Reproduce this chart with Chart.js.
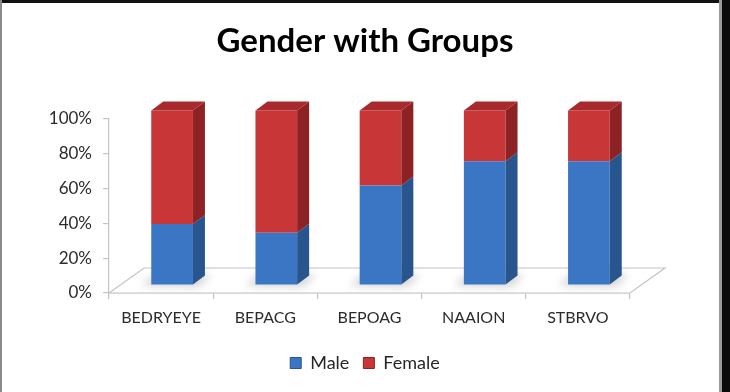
<!DOCTYPE html>
<html>
<head>
<meta charset="utf-8">
<script src="https://cdn.jsdelivr.net/npm/chart.js@4"></script>
<style>
  html, body { margin: 0; padding: 0; background: #ffffff; }
  #wrap { position: relative; width: 730px; height: 392px; overflow: hidden; background: #fff; }
  #frameTop { position: absolute; left: 0; top: 0; width: 730px; height: 3px; background: #111; }
  #frameLeft { position: absolute; left: 0; top: 0; width: 2px; height: 392px; background: #8a8a8a; }
  #frameRightGray { position: absolute; left: 719px; top: 0; width: 3px; height: 392px; background: #9a9a9a; }
  #frameRight { position: absolute; left: 722px; top: 0; width: 8px; height: 392px; background: #0a0a0a; }
  canvas { position: absolute; left: 0; top: 0; }
</style>
</head>
<body>
<div id="wrap">
  <canvas id="c" width="730" height="392"></canvas>
  <div id="frameTop"></div>
  <div id="frameLeft"></div>
  <div id="frameRightGray"></div>
  <div id="frameRight"></div>
</div>
<script>
const categories = ['BEDRYEYE', 'BEPACG', 'BEPOAG', 'NAAION', 'STBRVO'];
const maleValues = [35, 30, 57, 71, 71];
const femaleValues = [65, 70, 43, 29, 29];
const seriesNames = ['Male', 'Female'];

const FRONT = { male: '#3a76c4', female: '#c83638' };
const SIDE = { male: '#29558f', female: '#8c2224' };
const TOP = { male: '#3366aa', female: '#a92a2c' };

const BAR_SHIFT_X = 11, BAR_SHIFT_Y = -8;   // bars sit inside the floor depth
const DEPTH_X = 12, DEPTH_Y = 9;            // bar depth
const FLOOR_X = 35, FLOOR_Y = 25;           // floor depth

const threeD = {
  id: 'threeD',
  beforeDatasetsDraw(chart) {
    const ctx = chart.ctx, a = chart.chartArea;
    ctx.save();
    ctx.beginPath();
    ctx.moveTo(a.left, a.bottom);
    ctx.lineTo(a.left + FLOOR_X, a.bottom - FLOOR_Y);
    ctx.lineTo(a.right + FLOOR_X, a.bottom - FLOOR_Y);
    ctx.lineTo(a.right, a.bottom);
    ctx.closePath();
    ctx.fillStyle = '#ffffff';
    ctx.fill();
    ctx.strokeStyle = '#c4c4c4';
    ctx.lineWidth = 1.2;
    ctx.stroke();
    const meta0 = chart.getDatasetMeta(0);
    meta0.data.forEach(el => {
      const x = el.x + BAR_SHIFT_X, b = el.base + BAR_SHIFT_Y, w = el.width;
      ctx.save();
      ctx.filter = 'blur(4px)';
      ctx.fillStyle = 'rgba(0,0,0,0.18)';
      ctx.beginPath();
      ctx.moveTo(x - w / 2 - 10, b + 1);
      ctx.lineTo(x - w / 2 + 4, b - 10);
      ctx.lineTo(x + w / 2 + DEPTH_X + 6, b - 10);
      ctx.lineTo(x + w / 2 + 6, b + 2);
      ctx.closePath();
      ctx.fill();
      ctx.restore();
    });
    ctx.restore();
    ctx.save();
    ctx.translate(BAR_SHIFT_X, BAR_SHIFT_Y);
  },
  afterDatasetsDraw(chart) {
    const ctx = chart.ctx;
    const n = chart.data.datasets.length;
    for (let d = 0; d < n; d++) {
      const key = d === 0 ? 'male' : 'female';
      const meta = chart.getDatasetMeta(d);
      meta.data.forEach(el => {
        const r = el.x + el.width / 2, l = el.x - el.width / 2;
        const top = Math.min(el.y, el.base), bot = Math.max(el.y, el.base);
        ctx.beginPath();
        ctx.moveTo(r, top);
        ctx.lineTo(r + DEPTH_X, top - DEPTH_Y);
        ctx.lineTo(r + DEPTH_X, bot - DEPTH_Y);
        ctx.lineTo(r, bot);
        ctx.closePath();
        ctx.fillStyle = SIDE[key];
        ctx.fill();
        if (d === n - 1) {
          ctx.beginPath();
          ctx.moveTo(l, top);
          ctx.lineTo(l + DEPTH_X, top - DEPTH_Y);
          ctx.lineTo(r + DEPTH_X, top - DEPTH_Y);
          ctx.lineTo(r, top);
          ctx.closePath();
          ctx.fillStyle = TOP[key];
          ctx.fill();
        }
      });
    }
    ctx.restore();
  }
};

function frontFill(key) {
  return (context) => {
    const chart = context.chart;
    const el = context.element;
    if (!el || !chart.chartArea || !Number.isFinite(el.x) || !Number.isFinite(el.width) || el.width <= 0) return FRONT[key];
    const x = el.x, w = el.width;
    const g = chart.ctx.createLinearGradient(x - w / 2, 0, x + w / 2, 0);
    if (key === 'male') {
      g.addColorStop(0, '#3f7dcc'); g.addColorStop(0.6, '#3a75c3'); g.addColorStop(1, '#3468b0');
    } else {
      g.addColorStop(0, '#cc3a3c'); g.addColorStop(0.6, '#c43537'); g.addColorStop(1, '#b22e30');
    }
    return g;
  };
}

new Chart(document.getElementById('c'), {
  type: 'bar',
  data: {
    labels: categories,
    datasets: [
      { label: seriesNames[0], data: maleValues, backgroundColor: frontFill('male'), borderWidth: 0, clip: false },
      { label: seriesNames[1], data: femaleValues, backgroundColor: frontFill('female'), borderWidth: 0, clip: false }
    ]
  },
  plugins: [threeD],
  options: {
    responsive: false,
    animation: false,
    devicePixelRatio: 1,
    barPercentage: 0.8,
    categoryPercentage: 0.5,
    layout: { padding: { left: 0, right: 0, top: 0, bottom: 10 } },
    plugins: {
      title: {
        display: true,
        text: 'Gender with Groups',
        color: '#000000',
        font: { family: 'Lato', size: 33, weight: 'bold', lineHeight: 1.2 },
        padding: { top: 22, bottom: 57 }
      },
      legend: {
        position: 'bottom',
        labels: {
          color: '#262626',
          font: { family: 'Lato', size: 18 },
          boxWidth: 11,
          boxHeight: 11,
          padding: 14,
          generateLabels(chart) {
            return chart.data.datasets.map((ds, i) => ({
              text: ds.label,
              fillStyle: i === 0 ? FRONT.male : FRONT.female,
              strokeStyle: i === 0 ? SIDE.male : SIDE.female,
              lineWidth: 1,
              hidden: false,
              datasetIndex: i,
              fontColor: '#262626'
            }));
          }
        }
      },
      tooltip: { enabled: false }
    },
    scales: {
      x: {
        stacked: true,
        offset: true,
        grid: { offset: true, drawOnChartArea: false, drawTicks: true, tickLength: 6, color: '#c4c4c4', lineWidth: 1.2 },
        border: { display: true, color: '#c4c4c4', width: 1.2 },
        ticks: { color: '#2b2b2b', font: { family: 'Lato', size: 16 }, padding: 9 },
        afterFit(s) { s.height = 47; }
      },
      y: {
        stacked: true,
        min: 0,
        max: 100,
        ticks: { stepSize: 20, callback: v => v + '%', color: '#2b2b2b', font: { family: 'Lato', size: 17 }, padding: 11 },
        grid: { drawOnChartArea: false, drawTicks: true, tickLength: 6, color: '#c4c4c4', lineWidth: 1.2 },
        border: { display: true, color: '#c4c4c4', width: 1.2 },
        afterFit(s) { s.width = 109; }
      },
      yRightSpace: {
        position: 'right',
        display: true,
        min: 0,
        max: 100,
        grid: { display: false, drawTicks: false },
        border: { display: false },
        ticks: { display: false },
        afterFit(s) { s.width = 100; }
      }
    }
  }
});
</script>
</body>
</html>
